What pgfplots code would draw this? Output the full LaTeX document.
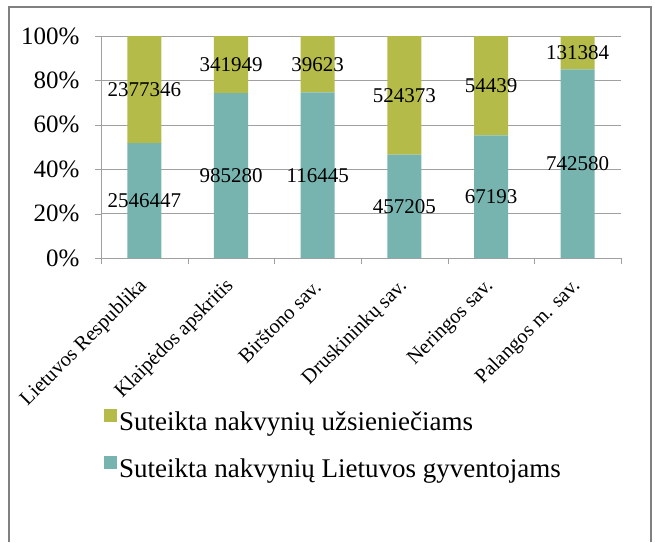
\documentclass[border=0pt]{standalone}
\usepackage{pgfplots}
\pgfplotsset{compat=1.18}
\usepackage{fontspec}
\setmainfont{Liberation Serif}
\definecolor{lt}{RGB}{119,180,175}
\definecolor{uz}{RGB}{180,187,72}
\definecolor{gridgray}{RGB}{160,160,160}
\definecolor{framegray}{RGB}{128,128,128}
\pgfplotsset{
    frame axis/.style={at={(101pt,284pt)}, anchor=south west,
        scale only axis, width=520pt, height=222pt,
        xmin=-0.5, xmax=5.5, ymin=0, ymax=100},
}
\begin{document}
\begin{tikzpicture}
\useasboundingbox (0,0) rectangle (655pt,542pt);
\draw[framegray, line width=2pt] (9pt,0) -- (9pt,535pt) -- (651pt,535pt) -- (651pt,0);
\begin{axis}[
    frame axis,
    ybar stacked, bar width=34pt,
    axis x line*=bottom, axis y line*=left,
    axis line style={gridgray, -},
    ymajorgrids, grid style={gridgray},
    xtick={0,...,5},
    xticklabels={Lietuvos Respublika, Klaipėdos apskritis, Birštono sav., Druskininkų sav., Neringos sav., Palangos m. sav.},
    minor xtick={-0.5,0.5,...,5.5},
    major x tick style={draw=none},
    ytick={0,20,...,100},
    yticklabel={\pgfmathprintnumber{\tick}\%},
    /pgf/number format/assume math mode=true,
    tick align=outside, major tick length=6pt, minor tick length=6pt,
    tick style={gridgray},
    yticklabel style={font=\fontsize{25}{27}\selectfont, xshift=-12pt},
    xticklabel style={xshift=2pt, yshift=-17pt, rotate=45, anchor=east, font=\fontsize{20.5}{22}\selectfont},
    reverse legend,
    legend image code/.code={\fill[#1] (0pt,0pt) rectangle (13pt,13pt);},
    legend style={at={(0,-0.67)}, anchor=north west, draw=none, fill=none,
        font=\fontsize{27}{29}\selectfont, row sep=22pt,
        cells={anchor=west}},
]
% share of nights, %
\addplot[fill=lt, draw=none] coordinates {
    (0,51.717) (1,74.236) (2,74.612) (3,46.579) (4,55.243) (5,84.967)
};
\addlegendentry{Suteikta nakvynių Lietuvos gyventojams}
\addplot[fill=uz, draw=none] coordinates {
    (0,48.283) (1,25.764) (2,25.388) (3,53.421) (4,44.757) (5,15.033)
};
\addlegendentry{Suteikta nakvynių užsieniečiams}
\end{axis}
% data labels, at the middle of each segment
\begin{axis}[
    frame axis, hide axis,
    point meta=explicit symbolic,
    nodes near coords,
    every node near coord/.style={anchor=center, text=black,
        font=\fontsize{21}{23}\selectfont},
]
\addplot[only marks, mark=none] coordinates {
    (0,25.859) [2546447]
    (1,37.118) [985280]
    (2,37.306) [116445]
    (3,23.290) [457205]
    (4,27.622) [67193]
    (5,42.484) [742580]
};
\addplot[only marks, mark=none] coordinates {
    (0,75.859) [2377346]
    (1,87.118) [341949]
    (2,87.306) [39623]
    (3,73.290) [524373]
    (4,77.622) [54439]
    (5,92.484) [131384]
};
\end{axis}
\end{tikzpicture}
\end{document}
